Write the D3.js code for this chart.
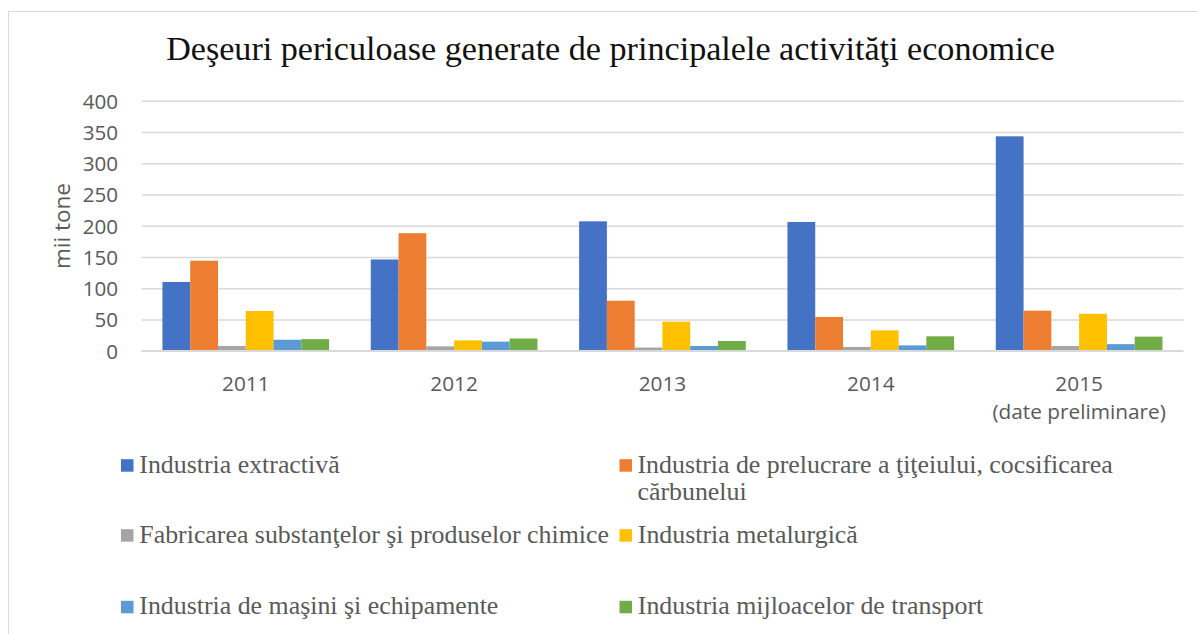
<!DOCTYPE html>
<html>
<head>
<meta charset="utf-8">
<script src="https://cdn.jsdelivr.net/npm/d3@7"></script>
<style>
  html, body { margin: 0; padding: 0; background: #fff; }
  svg { display: block; }
</style>
</head>
<body>
<svg id="chart" width="1198" height="634"></svg>
<script>
// ---- data ----
const titleText = "Deşeuri periculoase generate de principalele activităţi economice";
const yAxisTitle = "mii tone";
const categories = ["2011", "2012", "2013", "2014", "2015"];
const categoryNotes = ["", "", "", "", "(date preliminare)"];
const seriesNames = [
  "Industria extractivă",
  "Industria de prelucrare a ţiţeiului, cocsificarea cărbunelui",
  "Fabricarea substanţelor şi produselor chimice",
  "Industria metalurgică",
  "Industria de maşini şi echipamente",
  "Industria mijloacelor de transport"
];
const extractiva   = [110, 146, 207, 206, 343];
const prelucrare   = [144, 188, 80, 54, 64];
const chimice      = [7.5, 7, 5, 6, 7.5];
const metalurgica  = [63.5, 16.5, 46.5, 32.5, 59];
const masini       = [17.5, 14.5, 7.5, 8.5, 10.5];
const transport    = [18.5, 19.5, 15.5, 23, 22.5];
const yTicks = [0, 50, 100, 150, 200, 250, 300, 350, 400];
const colors = ["#4472C4", "#ED7D31", "#A5A5A5", "#FFC000", "#5B9BD5", "#70AD47"];

const seriesValues = [extractiva, prelucrare, chimice, metalurgica, masini, transport];
const seriesKeys = seriesNames.map((d, i) => "s" + i);
const table = categories.map((c, ci) => {
  const row = { cat: c };
  seriesKeys.forEach((k, si) => row[k] = seriesValues[si][ci]);
  return row;
});

// ---- layout ----
const svg = d3.select("#chart");
const plot = { left: 141.6, right: 1183.3, top: 100.7, bottom: 350.7 };
const W = plot.right - plot.left, H = plot.bottom - plot.top;
const serif = "'Liberation Serif', 'DejaVu Serif', serif";
const sans = "'Open Sans', 'Liberation Sans', sans-serif";
const grey = "#595959";

// chart frame
svg.append("rect").attr("x", 8.5).attr("y", 11.5).attr("width", 1204).attr("height", 640)
  .attr("fill", "#fff").attr("stroke", "#d9d9d9").attr("stroke-width", 1);

// fit helper: choose font-size so a text has a given width
function fitSize(sel, targetWidth, start) {
  sel.attr("font-size", start);
  const w = sel.node().getComputedTextLength();
  const s = start * targetWidth / w;
  sel.attr("font-size", s);
  return s;
}

// title
const title = svg.append("text").attr("x", 610.5).attr("y", 59.5)
  .attr("text-anchor", "middle").attr("font-family", serif).attr("fill", "#111")
  .text(titleText);
fitSize(title, 889, 32);

// Excel gap width 150%: group = 6 bars + 1.5 bar gap
const x0 = d3.scaleBand().domain(categories).range([0, W]).padding(0);
const barW = x0.bandwidth() / 7.5;
const x1 = d3.scaleBand().domain(seriesKeys).range([0.75 * barW, 6.75 * barW]).padding(0);
const y = d3.scaleLinear().domain([0, 400]).range([H, 0]);

const g = svg.append("g").attr("transform", `translate(${plot.left},${plot.top})`);

// gridlines + y tick labels
const yAxis = g.append("g").call(
  d3.axisLeft(y).tickValues(yTicks).tickSize(-W).tickPadding(23.5)
);
yAxis.select(".domain").remove();
yAxis.selectAll(".tick line").attr("stroke", "#d9d9d9").attr("stroke-width", 1.4);
yAxis.selectAll(".tick text").attr("font-family", sans).attr("font-size", 20.6)
  .attr("fill", grey).attr("dy", "0.36em");

// bars
g.append("g").selectAll("g").data(table).join("g")
  .attr("transform", d => `translate(${x0(d.cat)},0)`)
  .selectAll("rect")
  .data(d => seriesKeys.map((k, i) => ({ key: k, i, value: d[k] })))
  .join("rect")
  .attr("x", d => x1(d.key))
  .attr("width", x1.bandwidth())
  .attr("y", d => y(d.value))
  .attr("height", d => H - y(d.value))
  .attr("fill", d => colors[d.i]);

// baseline over bars
g.append("line").attr("x1", 0).attr("x2", W).attr("y1", y(0)).attr("y2", y(0))
  .attr("stroke", "#d9d9d9").attr("stroke-width", 1.4);

// x axis labels
const xAxis = g.append("g").attr("transform", `translate(0,${H})`)
  .call(d3.axisBottom(x0).tickSize(0).tickFormat(""));
xAxis.select(".domain").remove();
xAxis.selectAll(".tick").each(function (d, i) {
  const t = d3.select(this).append("text").attr("font-family", sans).attr("font-size", 20.8)
    .attr("fill", grey).attr("text-anchor", "middle");
  t.append("tspan").attr("x", 0).attr("y", 40.8).text(d);
  if (categoryNotes[i]) t.append("tspan").attr("x", 0).attr("y", 68).text(categoryNotes[i]);
});

// y axis title
svg.append("text").attr("transform", "translate(69.5,226) rotate(-90)")
  .attr("text-anchor", "middle").attr("font-family", sans).attr("font-size", 22.5)
  .attr("fill", grey).text(yAxisTitle);

// legend
const legCols = [121, 619.5];
const legRows = [472.7, 542.7, 614.3];
const legend = svg.append("g");
const probe = legend.append("text").attr("font-family", serif).text(seriesNames[2]);
const legSize = fitSize(probe, 470, 22);
probe.remove();

seriesNames.forEach((name, i) => {
  const cx = legCols[i % 2], by = legRows[Math.floor(i / 2)];
  legend.append("rect").attr("x", cx).attr("y", by - 13.5).attr("width", 12.5).attr("height", 12.5)
    .attr("fill", colors[i]);
  const t = legend.append("text").attr("font-family", serif).attr("font-size", legSize)
    .attr("fill", grey);
  if (i === 1) {
    const parts = ["Industria de prelucrare a ţiţeiului, cocsificarea", "cărbunelui"];
    t.append("tspan").attr("x", cx + 18).attr("y", by).text(parts[0]);
    t.append("tspan").attr("x", cx + 18).attr("y", by + 27.5).text(parts[1]);
  } else {
    t.append("tspan").attr("x", cx + 18.3).attr("y", by).text(name);
  }
});
</script>
</body>
</html>
